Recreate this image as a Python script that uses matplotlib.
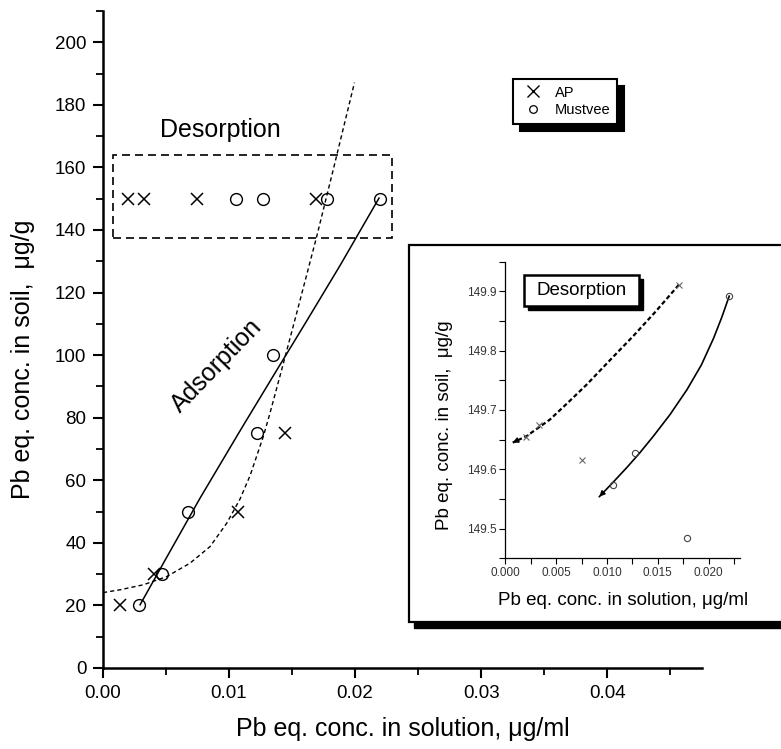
import matplotlib
matplotlib.use('Agg')
import matplotlib.pyplot as plt
from matplotlib.patches import Rectangle
from matplotlib.lines import Line2D
import matplotlib.ticker as mt

plt.rcParams['font.family'] = ['Liberation Sans', 'DejaVu Sans']

# ---------------- data (main chart) ----------------
ap_ads_x = [0.00135, 0.00405, 0.01075, 0.0144]
ap_ads_y = [20, 30, 50, 75]
mu_ads_x = [0.00288, 0.00471, 0.00672, 0.01222, 0.01352]
mu_ads_y = [20, 30, 50, 75, 100]
ap_des_x = [0.00196, 0.00325, 0.00744, 0.0169]
ap_des_y = [150, 150, 150, 150]
mu_des_x = [0.01056, 0.01267, 0.0178, 0.02198]
mu_des_y = [150, 150, 150, 150]

# fitted curves
mu_fit_x = [0.00294, 0.0050, 0.0077, 0.0109, 0.0138, 0.0162, 0.0188, 0.0219]
mu_fit_y = [20.2, 35.0, 54.3, 76.0, 95.3, 111.2, 128.6, 150.2]
ap_fit_x = [0.0, 0.00135, 0.0032, 0.00505, 0.0069, 0.00849, 0.00982, 0.01087,
            0.01167, 0.01272, 0.01325, 0.01418, 0.01537, 0.01696, 0.01828, 0.01995]
ap_fit_y = [24.1, 25.0, 26.6, 29.2, 33.5, 38.8, 46.3, 54.0,
            61.5, 74.0, 81.5, 95.4, 113.5, 138.0, 159.5, 187.1]

# desorption window
des_box_x = [0.00077, 0.0229]
des_box_y = [137.4, 164.0]

# ---------------- data (inset) ----------------
ap_in_x = [0.00204, 0.00335, 0.00752, 0.01708]
ap_in_y = [149.655, 149.674, 149.616, 149.911]
mu_in_x = [0.01058, 0.01278, 0.01787, 0.02204]
mu_in_y = [149.574, 149.627, 149.485, 149.892]
ap_in_fit_x = [0.01708, 0.0148, 0.01261, 0.0103, 0.00802, 0.0062, 0.0044, 0.0030, 0.0021, 0.00073]
ap_in_fit_y = [149.911, 149.866, 149.825, 149.784, 149.743, 149.713, 149.684, 149.667, 149.656, 149.645]
mu_in_fit_x = [0.02204, 0.0213, 0.0205, 0.0193, 0.01787, 0.0162, 0.01458, 0.0132, 0.01196, 0.0106, 0.00926]
mu_in_fit_y = [149.892, 149.856, 149.821, 149.776, 149.734, 149.692, 149.656, 149.627, 149.603, 149.578, 149.554]

W, H = 781, 749
fig = plt.figure(figsize=(W / 100, H / 100), dpi=100)


def fx(px):
    return px / W


def fy(py):
    return 1 - py / H


# ---------------- main axes ----------------
ax = fig.add_axes([fx(103), fy(668), (701.7 - 103) / W, (668 - 11) / H])
ax.set_xlim(0, 0.0475)
ax.set_ylim(0, 210)
for s in ['top', 'right']:
    ax.spines[s].set_visible(False)
for s in ['left', 'bottom']:
    ax.spines[s].set_linewidth(1.8)

ax.xaxis.set_major_locator(mt.MultipleLocator(0.01))
ax.xaxis.set_minor_locator(mt.MultipleLocator(0.005))
ax.xaxis.set_major_formatter(mt.FormatStrFormatter('%.2f'))
ax.yaxis.set_major_locator(mt.FixedLocator(list(range(0, 201, 20))))
ax.yaxis.set_minor_locator(mt.FixedLocator(list(range(10, 211, 20))))
ax.tick_params(which='major', direction='out', length=7, width=1.5, labelsize=13.5, pad=5)
ax.tick_params(which='minor', direction='out', length=5, width=1.3)

ax.set_xlabel('Pb eq. conc. in solution, μg/ml', fontsize=18)
ax.set_ylabel('Pb eq. conc. in soil,  μg/g', fontsize=18)
ax.xaxis.set_label_coords(0.5, -0.074)
ax.yaxis.set_label_coords(-0.113, 0.47)

ax.plot(ap_fit_x, ap_fit_y, color='black', lw=1.0, ls=(0, (3, 2.2)))
ax.plot(mu_fit_x, mu_fit_y, color='black', lw=1.1)
ax.plot(ap_ads_x, ap_ads_y, ls='none', marker='x', ms=9, mew=1.1, color='black')
ax.plot(ap_des_x, ap_des_y, ls='none', marker='x', ms=9, mew=1.1, color='black')
ax.plot(mu_ads_x, mu_ads_y, ls='none', marker='o', ms=8.5, mfc='none', mec='black', mew=1.0)
ax.plot(mu_des_x, mu_des_y, ls='none', marker='o', ms=8.5, mfc='none', mec='black', mew=1.0)

ax.add_patch(Rectangle((des_box_x[0], des_box_y[0]), des_box_x[1] - des_box_x[0],
                       des_box_y[1] - des_box_y[0], fill=False, ec='black', lw=1.2,
                       ls=(0, (4.8, 3))))
ax.text(0.0093, 172, 'Desorption', fontsize=18, ha='center', va='center')
ax.text(0.00905, 96.6, 'Adsorption', fontsize=18, ha='center', va='center',
        rotation=46, rotation_mode='anchor')

handles = [Line2D([], [], ls='none', marker='x', ms=8, mew=1.0, color='black'),
           Line2D([], [], ls='none', marker='o', ms=5.5, mfc='none', mec='black', mew=0.9)]
leg = ax.legend(handles, ['AP', 'Mustvee'], loc='upper left',
                bbox_to_anchor=(fx(513), fy(79)), bbox_transform=fig.transFigure,
                borderaxespad=0, fancybox=False, edgecolor='black', framealpha=1,
                fontsize=10.5, borderpad=0.45, labelspacing=0.25, handlelength=1.8,
                handletextpad=0.6,
                shadow={'facecolor': 'black', 'edgecolor': 'black', 'alpha': 1, 'ox': 5, 'oy': -5})
leg.get_frame().set_linewidth(1.5)

# ---------------- inset frame ----------------
fig.add_artist(Rectangle((fx(414), fy(628)), (820 - 414) / W, (628 - 251) / H,
                         transform=fig.transFigure, facecolor='black', edgecolor='black',
                         zorder=2))
fig.add_artist(Rectangle((fx(409), fy(622)), (820 - 409) / W, (622 - 245) / H,
                         transform=fig.transFigure, facecolor='white', edgecolor='black',
                         lw=1.6, zorder=2.1))

# ---------------- inset axes ----------------
ins = fig.add_axes([fx(505.3), fy(558.3), (740 - 505.3) / W, (558.3 - 261.7) / H])
ins.set_zorder(3)
ins.patch.set_alpha(0)
ins.set_xlim(0, 0.0231)
ins.set_ylim(149.45, 149.95)
for s in ['top', 'right']:
    ins.spines[s].set_visible(False)
for s in ['left', 'bottom']:
    ins.spines[s].set_linewidth(0.9)
ins.xaxis.set_major_locator(mt.MultipleLocator(0.005))
ins.xaxis.set_minor_locator(mt.MultipleLocator(0.0025))
ins.xaxis.set_major_formatter(mt.FormatStrFormatter('%.3f'))
ins.yaxis.set_major_locator(mt.FixedLocator([149.5, 149.6, 149.7, 149.8, 149.9]))
ins.yaxis.set_minor_locator(mt.FixedLocator([149.45, 149.55, 149.65, 149.75, 149.85, 149.95]))
ins.yaxis.set_major_formatter(mt.FormatStrFormatter('%.1f'))
ins.tick_params(which='both', direction='out', length=4, width=0.8, labelsize=8.5,
                labelcolor='#333333', pad=2.5)
ins.set_xlabel('Pb eq. conc. in solution, μg/ml', fontsize=13.5)
ins.set_ylabel('Pb eq. conc. in soil,  μg/g', fontsize=13.5)
ins.xaxis.set_label_coords(0.503, -0.112)
ins.yaxis.set_label_coords(-0.222, 0.449)

ins.plot(ap_in_fit_x, ap_in_fit_y, color='black', lw=1.6, ls=(0, (2, 1.2)))
ins.plot(mu_in_fit_x, mu_in_fit_y, color='black', lw=1.2)
for fx_, fy_ in [(ap_in_fit_x, ap_in_fit_y), (mu_in_fit_x, mu_in_fit_y)]:
    x1, y1 = fx_[-1], fy_[-1]
    x0, y0 = fx_[-2], fy_[-2]
    ins.annotate('', xy=(x1, y1), xytext=(x1 + 0.3 * (x0 - x1), y1 + 0.3 * (y0 - y1)),
                 arrowprops=dict(arrowstyle='-|>', color='black', lw=1.0, mutation_scale=8,
                                 shrinkA=0, shrinkB=0))
ins.plot(ap_in_x, ap_in_y, ls='none', marker='x', ms=5, mew=0.8, color='#666666')
ins.plot(mu_in_x, mu_in_y, ls='none', marker='o', ms=4.5, mfc='none', mec='#444444', mew=0.8)

# inset "Desorption" box with shadow
fig.add_artist(Rectangle((fx(528.3), fy(310)), 115 / W, 31 / H, transform=fig.transFigure,
                         facecolor='black', edgecolor='black', zorder=4))
fig.add_artist(Rectangle((fx(524.3), fy(306)), 115 / W, 31 / H, transform=fig.transFigure,
                         facecolor='white', edgecolor='black', lw=1.8, zorder=4.1))
fig.text(fx(582), fy(290.5), 'Desorption', fontsize=13.5, ha='center', va='center', zorder=5)

fig.savefig('out.png', dpi=100)
